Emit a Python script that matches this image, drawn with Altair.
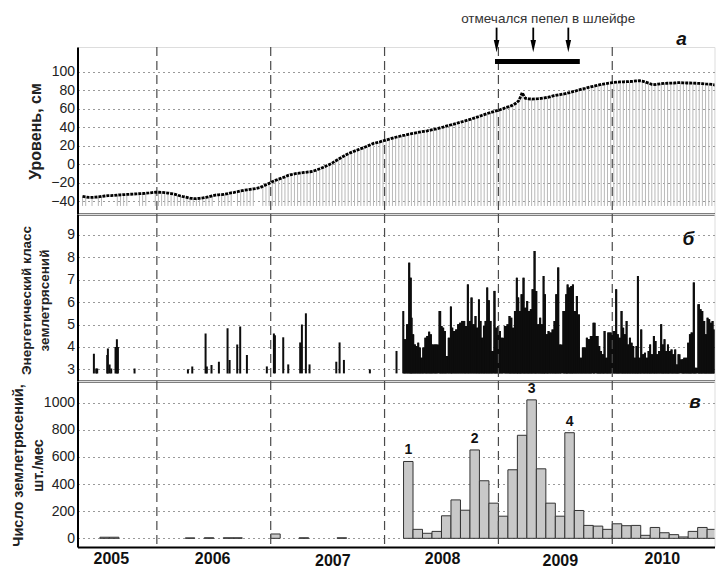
import altair as alt
import pandas as pd

# ---------------- data ----------------
X_DOMAIN = [2005.303, 2010.898]         # time axis, decimal years
YEAR_LINES = [2006, 2007, 2008, 2009, 2010]

# panel a: water level, cm; three readings per month (dekads), May 2005 .. Dec 2010
level_2005 = [-35, -35.5, -36, -36, -35.8, -35.5, -35, -34.5, -34, -34, -33.8, -33.5,
              -33.2, -33, -32.8, -32.6, -32.4, -32.2, -32, -31.8, -31.5, -31.2, -30.8, -30.4]
level_2006 = [-30.4, -30.6, -30.9, -31.3, -31.8, -32.5, -33.5, -34.5, -35.3, -36, -36.8, -37.3,
              -37.3, -37, -36.6, -36, -35.2, -34.3, -33.5, -33.2, -33, -32.6, -32, -31,
              -30.5, -29.8, -29, -28.3, -27.8, -27.3, -26.8, -26.2, -25.5, -24, -22.3, -20.8]
level_2007 = [-19, -17.5, -16.2, -15, -13.8, -12.2, -11.3, -10.5, -9.9, -9.5, -9, -8.6,
              -8.2, -7.5, -6.3, -5, -3.6, -2, -0.5, 1.4, 3.5, 5.5, 7.5, 9.5,
              11.3, 12.8, 14.2, 15.5, 16.8, 18, 19.5, 21, 22.5, 23.3, 24.2, 25.2]
level_2008 = [26.2, 27.2, 28.2, 29.2, 30, 30.8, 31.5, 32.3, 33, 33.7, 34.3, 35,
              35.6, 36.2, 36.9, 37.6, 38.4, 39.3, 40.2, 41.2, 42.2, 43, 44, 45,
              46, 47, 48, 49, 50.2, 51.3, 52.5, 53.7, 54.9, 56, 57, 58]
level_2009 = [59, 60.2, 61.5, 62.5, 64, 66, 69, 77.5, 71.5, 70.8, 70.6, 70.8,
              71, 71.3, 71.8, 72.4, 73.2, 74.2, 74.8, 75.4, 76, 76.7, 77.6, 78.6,
              79.5, 80.5, 81.5, 82.3, 83.2, 84, 84.8, 85.6, 86.4, 87, 87.6, 88.2]
level_2010 = [88.6, 88.9, 89.1, 89.3, 89.4, 89.6, 89.8, 90.2, 90.5, 90, 89, 87.8,
              86.6, 86.2, 86.8, 87.3, 87.6, 87.7, 87.8, 88, 88.3, 88.3, 88.2, 88,
              88, 87.8, 87.7, 87.5, 87.3, 87, 86.8, 86.4, 85.8, 85.2, 84.6, 84]
LEVEL_FIRST_MONTH = 4            # months after Jan 2005 (May 2005)
stem_missing = [2, 4, 7, 8, 9, 10, 15, 16, 17, 21, 22, 42, 48, 55, 56]
STEM_BASE = -45.3

# ash annotation
ASH_TEXT = "отмечался пепел в шлейфе"
ash_text_pos = [2009.437, 157.8]
arrow_times = [2008.984, 2009.306, 2009.614]
arrow_top, arrow_bottom, arrow_head = 148, 131, 127.9
ash_bar = [2008.97, 2009.715, 111.4]

# panel b: energy class of earthquakes
ev_time = [2005.447, 2005.467, 2005.476, 2005.564, 2005.570, 2005.585, 2005.599, 2005.637, 2005.649,
           2005.658, 2005.804, 2006.273, 2006.311, 2006.428, 2006.439, 2006.480, 2006.545, 2006.621,
           2006.639, 2006.706, 2006.732, 2006.791, 2006.966, 2007.028, 2007.037, 2007.110, 2007.154,
           2007.259, 2007.274, 2007.309, 2007.341, 2007.576, 2007.605, 2007.643, 2007.871, 2008.105,
           2008.164, 2008.179, 2008.199, 2008.217, 2008.231, 2008.237, 2008.252, 2008.266, 2008.281,
           2008.296, 2008.310, 2008.325, 2008.340, 2008.360, 2008.375, 2008.392, 2008.407, 2008.422,
           2008.442, 2008.457, 2008.489, 2008.501, 2008.515, 2008.530, 2008.545, 2008.565, 2008.583,
           2008.594, 2008.612, 2008.629, 2008.647, 2008.665, 2008.682, 2008.700, 2008.714, 2008.732,
           2008.747, 2008.764, 2008.782, 2008.799, 2008.814, 2008.829, 2008.843, 2008.858, 2008.873,
           2008.887, 2008.902, 2008.916, 2008.931, 2008.946, 2008.966, 2008.981, 2008.998, 2009.013,
           2009.031, 2009.063, 2009.080, 2009.098, 2009.113, 2009.130, 2009.145, 2009.162, 2009.174,
           2009.189, 2009.203, 2009.221, 2009.236, 2009.253, 2009.268, 2009.285, 2009.300, 2009.318,
           2009.332, 2009.350, 2009.367, 2009.382, 2009.397, 2009.408, 2009.426, 2009.440, 2009.458,
           2009.476, 2009.493, 2009.508, 2009.525, 2009.543, 2009.578, 2009.596, 2009.607, 2009.625,
           2009.640, 2009.654, 2009.672, 2009.689, 2009.707, 2009.725, 2009.742, 2009.760, 2009.777,
           2009.795, 2009.812, 2009.839, 2009.871, 2009.886, 2009.900, 2009.918, 2009.932, 2009.950,
           2009.965, 2009.982, 2010.017, 2010.035, 2010.049, 2010.064, 2010.082, 2010.096, 2010.111,
           2010.126, 2010.140, 2010.155, 2010.170, 2010.184, 2010.199, 2010.213, 2010.225, 2010.240,
           2010.254, 2010.272, 2010.287, 2010.304, 2010.319, 2010.333, 2010.348, 2010.366, 2010.380,
           2010.395, 2010.412, 2010.430, 2010.445, 2010.459, 2010.474, 2010.489, 2010.503, 2010.521,
           2010.536, 2010.553, 2010.568, 2010.582, 2010.618, 2010.632, 2010.650, 2010.667, 2010.682,
           2010.697, 2010.717, 2010.732, 2010.761, 2010.776, 2010.790, 2010.808, 2010.822, 2010.837,
           2010.852, 2010.866, 2010.881, 2010.896, 2010.910, 2010.925, 2010.945, 2010.960]
ev_class = [3.70, 3.04, 3.04, 3.64, 3.93, 3.22, 3.04, 4.00, 4.34,
            4.00, 3.04, 3.00, 3.13, 4.60, 3.13, 3.19, 3.34, 4.83,
            3.42, 4.11, 4.91, 3.64, 3.13, 4.60, 4.52, 4.43, 3.22,
            4.20, 5.00, 5.50, 3.22, 3.34, 4.20, 3.42, 3.00, 3.82,
            5.60, 4.34, 5.01, 7.76, 7.09, 5.30, 4.56, 4.11, 4.04,
            4.19, 3.97, 3.52, 3.97, 4.41, 4.49, 4.68, 4.56, 4.11,
            4.11, 4.11, 5.60, 4.93, 4.86, 4.71, 3.59, 4.41, 5.80,
            4.86, 4.71, 4.78, 5.01, 5.08, 5.16, 5.16, 4.93, 6.79,
            5.16, 6.20, 5.01, 5.38, 4.86, 6.12, 5.16, 4.41, 4.93,
            5.16, 6.65, 6.08, 5.16, 3.82, 6.50, 4.86, 4.93, 4.71,
            4.41, 4.93, 5.01, 5.38, 5.30, 4.86, 5.60, 7.09, 6.20,
            5.60, 6.35, 7.09, 5.75, 6.05, 5.60, 5.68, 6.57, 8.28,
            6.50, 5.01, 5.30, 5.01, 7.16, 6.35, 4.56, 4.71, 4.64,
            4.78, 5.16, 6.35, 7.54, 4.11, 5.60, 6.35, 6.79, 6.65,
            6.72, 6.79, 5.60, 6.27, 5.45, 3.52, 3.97, 3.97, 4.41,
            4.34, 4.49, 5.08, 4.49, 4.04, 3.82, 3.67, 4.71, 3.52,
            4.64, 4.64, 4.71, 6.57, 4.56, 4.41, 5.60, 4.86, 4.56,
            5.16, 4.11, 4.41, 4.19, 4.04, 3.52, 4.04, 7.16, 3.52,
            4.78, 3.67, 3.74, 3.52, 3.82, 4.11, 3.67, 4.49, 4.26,
            3.67, 3.82, 5.01, 4.11, 4.34, 3.82, 4.11, 3.82, 3.89,
            3.67, 3.89, 3.22, 3.67, 3.45, 3.52, 3.52, 4.19, 4.56,
            4.64, 6.87, 3.07, 5.90, 5.68, 5.60, 5.16, 4.56, 5.30,
            5.23, 5.08, 5.16, 4.78, 5.23, 5.45, 5.38, 5.45]
CLASS_BASE = 2.82
DENSE_FROM = 2008.15             # continuous swarm starts here

# panel c: number of earthquakes per month, May 2005 .. Dec 2010
counts_2005 = [0, 0, 8, 8, 0, 0, 0, 0]
counts_2006 = [0, 0, 0, 3, 0, 4, 0, 4, 4, 0, 0, 0]
counts_2007 = [32, 0, 0, 4, 0, 0, 0, 4, 0, 0, 0, 0]
counts_2008 = [0, 0, 566, 66, 37, 51, 166, 283, 207, 651, 424, 259]
counts_2009 = [163, 505, 759, 1020, 512, 259, 163, 778, 205, 95, 90, 66]
counts_2010 = [107, 93, 95, 22, 80, 41, 27, 10, 51, 80, 66, 90]
COUNT_FIRST_MONTH = 4
bar_marks = [(2008, 3, "1"), (2008, 10, "2"), (2009, 4, "3"), (2009, 8, "4")]

year_labels_high = [(2005.60, "2005"), (2006.49, "2006"), (2008.51, "2008"), (2010.44, "2010")]
year_labels_low = [(2007.546, "2007"), (2009.544, "2009")]

panel_letters = {"a": (2010.609, 136, "а"), "b": (2010.668, 8.82, "б"), "c": (2010.726, 1005, "в")}

# ---------------- tables ----------------
level_vals = level_2005 + level_2006 + level_2007 + level_2008 + level_2009 + level_2010
level_rows = []
for k, v in enumerate(level_vals):
    t = 2005 + (LEVEL_FIRST_MONTH + k // 3) / 12 + ((k % 3) + 0.5) / 36
    level_rows.append({"t": t, "v": v, "stem": k not in stem_missing})
df_level = pd.DataFrame(level_rows)
df_stems = df_level[df_level["stem"]]

df_events = pd.DataFrame({"t": ev_time, "k": ev_class})
df_dense = df_events[df_events["t"] >= DENSE_FROM]

count_vals = counts_2005 + counts_2006 + counts_2007 + counts_2008 + counts_2009 + counts_2010
count_rows = []
for i, n in enumerate(count_vals):
    t0 = 2005 + (COUNT_FIRST_MONTH + i) / 12
    count_rows.append({"t0": t0, "t1": t0 + 1 / 12, "n": n})
df_counts = pd.DataFrame(count_rows)
df_bars = df_counts[df_counts["n"] > 0]

mark_rows = []
for (yy, mm, lab) in bar_marks:
    t0 = yy + (mm - 1) / 12
    n = float(df_counts.loc[(df_counts["t0"] - t0).abs() < 1e-6, "n"].iloc[0])
    mark_rows.append({"t": t0 + 1 / 24, "n": n, "lab": lab})
df_marks = pd.DataFrame(mark_rows)

df_years = pd.DataFrame({"t": YEAR_LINES})

# ---------------- chart ----------------
FONT = "Liberation Sans"
W = 637
H_A, H_B, H_C = 167, 167, 166

xscale = alt.Scale(domain=X_DOMAIN, nice=False, zero=False)
xaxis = alt.Axis(labels=False, ticks=False, grid=False, title=None,
                 domainColor="black", domainWidth=2)


def X(field="t"):
    return alt.X(f"{field}:Q", scale=xscale, axis=xaxis)


def yaxis(values, title, tx, ty, size, lh=None):
    kw = dict(values=values, title=title, titleX=tx, titleY=ty, titleAngle=270,
              titleAlign="center", titleBaseline="middle", titleFontSize=size,
              titleFontWeight="bold", titleColor="#222", titleFont=FONT,
              grid=True, gridDash=[2, 3], gridColor="#9a9a9a", gridWidth=1,
              ticks=False, labelPadding=3, labelFontSize=14, labelColor="#222",
              labelFont=FONT, labelOverlap=False, labelFlush=False, format="d",
              domainColor="black", domainWidth=2)
    if lh is not None:
        kw["titleLineHeight"] = lh
    return alt.Axis(**kw)


ya_scale = alt.Scale(domain=[-54, 127], nice=False, zero=False)
ya_axis = yaxis([-40, -20, 0, 20, 40, 60, 80, 100], "Уровень, см", -42, 84, 16)
yb_scale = alt.Scale(domain=[2.48, 9.93], nice=False, zero=False)
yb_axis = yaxis([3, 4, 5, 6, 7, 8, 9], ["Энергетический класс", "землетрясений"], -51, 86, 13.5, 17.5)
yc_scale = alt.Scale(domain=[-64, 1159], nice=False, zero=False)
yc_axis = yaxis([0, 200, 400, 600, 800, 1000], ["Число землетрясений,", "шт./мес"], -59.5, 84, 14.5, 20)


def YA(field="v"):
    return alt.Y(f"{field}:Q", scale=ya_scale, axis=ya_axis)


def YB(field="k"):
    return alt.Y(f"{field}:Q", scale=yb_scale, axis=yb_axis)


def YC(field="n"):
    return alt.Y(f"{field}:Q", scale=yc_scale, axis=yc_axis)


def year_rules_panel(h):
    return alt.Chart(df_years).mark_rule(color="#4a4a4a", strokeDash=[9, 5], strokeWidth=1.2).encode(
        x=X(), y=alt.value(0), y2=alt.value(h))


def letter(key, Yfun, field):
    tt, vv, s = panel_letters[key]
    return alt.Chart(pd.DataFrame({"t": [tt], field: [vv], "s": [s]})).mark_text(
        fontSize=19, fontWeight="bold", fontStyle="italic", font=FONT, color="#111",
        baseline="middle", align="center").encode(x=X(), y=Yfun(field), text="s:N")


# ---- panel a
stems = alt.Chart(df_stems).mark_rule(color="#b8b8b8", strokeWidth=1, clip=True).encode(
    x=X(), y=YA(), y2=alt.datum(STEM_BASE))
line = alt.Chart(df_level).mark_line(color="black", strokeWidth=2.8, strokeDash=[3, 1], clip=True).encode(
    x=X(), y=YA())
ash_txt = alt.Chart(pd.DataFrame({"t": [ash_text_pos[0]], "v": [ash_text_pos[1]], "s": [ASH_TEXT]})).mark_text(
    fontSize=13.5, color="#333", font=FONT, baseline="middle", align="center").encode(
    x=X(), y=YA(), text="s:N")
df_arrows = pd.DataFrame({"t": arrow_times, "v": [arrow_top] * 3, "v2": [arrow_bottom] * 3,
                          "h": [arrow_head] * 3})
shafts = alt.Chart(df_arrows).mark_rule(color="black", strokeWidth=1.8).encode(
    x=X(), y=YA(), y2="v2:Q")
heads = alt.Chart(df_arrows).mark_point(shape="M-0.45,-1L0.45,-1L0,1Z", filled=True, size=150,
                                        color="black", opacity=1).encode(x=X(), y=YA("h"))
bar_line = alt.Chart(pd.DataFrame({"t": [ash_bar[0]], "t2": [ash_bar[1]], "v": [ash_bar[2]]})).mark_rule(
    color="black", strokeWidth=5).encode(x=X(), x2="t2:Q", y=YA())

panel_a = alt.layer(stems, year_rules_panel(H_A), line, bar_line, shafts, heads, ash_txt,
                    letter("a", YA, "v")).properties(width=W, height=H_A)

# ---- panel b
swarm = alt.Chart(df_dense).mark_area(color="#0d0d0d", interpolate="step", clip=True).encode(
    x=X(), y=YB(), y2=alt.datum(CLASS_BASE))
spikes = alt.Chart(df_events).mark_rule(color="#0d0d0d", strokeWidth=2, clip=True).encode(
    x=X(), y=YB(), y2=alt.datum(CLASS_BASE))
panel_b = alt.layer(swarm, spikes, year_rules_panel(H_B), letter("b", YB, "k")).properties(
    width=W, height=H_B)

# ---- panel c
bars = alt.Chart(df_bars).mark_rect(fill="#c8c8c8", stroke="#333", strokeWidth=1, clip=True).encode(
    x=X("t0"), x2="t1:Q", y=YC(), y2=alt.datum(0))
bar_lab = alt.Chart(df_marks).mark_text(fontSize=14, fontWeight="bold", font=FONT, color="#111",
                                        baseline="bottom", dy=-4).encode(x=X(), y=YC(), text="lab:N")
yl_hi = alt.Chart(pd.DataFrame(year_labels_high, columns=["t", "s"])).mark_text(
    fontSize=16, fontWeight="bold", font=FONT, color="#111", baseline="middle").encode(
    x=X(), y=alt.value(H_C + 12), text="s:N")
yl_lo = alt.Chart(pd.DataFrame(year_labels_low, columns=["t", "s"])).mark_text(
    fontSize=16, fontWeight="bold", font=FONT, color="#111", baseline="middle").encode(
    x=X(), y=alt.value(H_C + 14), text="s:N")
panel_c = alt.layer(bars, year_rules_panel(H_C), bar_lab, yl_hi, yl_lo, letter("c", YC, "n")).properties(
    width=W, height=H_C)

chart = alt.vconcat(panel_a, panel_b, panel_c, spacing=0, bounds="flush").properties(
    padding={"left": 1.5, "top": 3, "right": 0, "bottom": 0}
).configure_view(stroke=None).configure_axis(labelOverlap=False).configure(font=FONT, background="white")

chart.save("out.html", embed_options={"renderer": "svg", "actions": False})
